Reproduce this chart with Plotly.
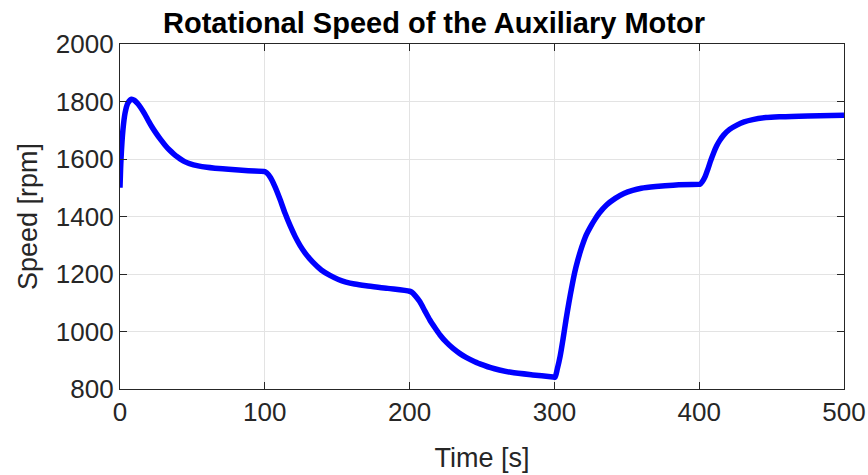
import plotly.graph_objects as go

time_s = [0, 0.7, 2, 3.5, 5.5, 8, 10, 12, 14, 17, 19.6, 22, 25, 28, 31, 34, 37, 40, 42.6, 45, 48, 54, 60, 65.6, 75, 88.6, 100,
          101.3, 104, 107, 110.5, 114, 117.5, 121, 124.5, 128, 133, 139, 145, 150.8, 156, 162, 170, 185, 200,
          201.4, 204, 207, 210.5, 214, 217.5, 221, 225.5, 230, 234.5, 239, 245, 251, 256, 262, 270, 285, 299, 300.4,
          302, 304, 306, 308, 310, 312, 314, 316, 318, 320, 322, 325, 328, 331, 336, 342, 348, 354, 360, 370, 382, 400,
          400.5, 402, 404, 406, 408, 410, 412, 414, 417, 421, 426, 431, 437, 446, 456, 475, 500]
speed_rpm = [1500, 1600, 1700, 1760, 1795, 1808, 1804, 1794, 1781, 1757, 1733, 1712, 1689, 1668, 1649, 1632, 1618, 1606, 1597, 1590, 1584, 1576, 1571, 1568, 1564, 1559, 1556,
             1552, 1535, 1504, 1460, 1411, 1368, 1330, 1298, 1272, 1242, 1214, 1195, 1181, 1172, 1165, 1159, 1150, 1140,
             1137, 1124, 1104, 1072, 1040, 1013, 988, 962, 941, 924, 910, 895, 883, 874, 866, 858, 849, 842, 841,
             870, 915, 975, 1040, 1100, 1155, 1205, 1245, 1280, 1310, 1336, 1365, 1390, 1412, 1440, 1463, 1480, 1491, 1498, 1504, 1509, 1512,
             1512, 1520, 1538, 1565, 1595, 1622, 1645, 1663, 1684, 1703, 1718, 1729, 1737, 1744, 1747, 1750, 1752]

x_ticks = [0, 100, 200, 300, 400, 500]
y_ticks = [800, 1000, 1200, 1400, 1600, 1800, 2000]

fig = go.Figure()
fig.add_trace(go.Scatter(x=time_s, y=speed_rpm, mode="lines",
                         line=dict(color="#0000FF", width=5.5, shape="spline", smoothing=0.8),
                         showlegend=False))

font_family = "Liberation Sans, Arial, Helvetica, sans-serif"
axis_common = dict(showgrid=True, gridcolor="#e3e3e3", gridwidth=1,
                   showline=True, linecolor="#262626", linewidth=1.2, mirror="ticks",
                   ticks="inside", ticklen=7, tickcolor="#262626", tickwidth=1,
                   zeroline=False, automargin=False,
                   tickfont=dict(family=font_family, size=26, color="#262626"))

fig.update_layout(
    width=868, height=475,
    margin=dict(l=120, r=24, t=44, b=86),
    paper_bgcolor="white", plot_bgcolor="white",
    title=dict(text="<b>Rotational Speed of the Auxiliary Motor</b>", x=0.5, xanchor="center",
               y=1 - 23 / 475, yanchor="middle",
               font=dict(family=font_family, size=29, color="black")),
    xaxis=dict(range=[0, 500], tickvals=x_ticks,
               title=dict(text="Time [s]", font=dict(family=font_family, size=27, color="#262626"), standoff=21),
               **axis_common),
    yaxis=dict(range=[800, 2000], tickvals=y_ticks,
               title=dict(text="Speed [rpm]", font=dict(family=font_family, size=27, color="#262626"), standoff=10),
               **axis_common),
)

fig.write_html("out.html")
